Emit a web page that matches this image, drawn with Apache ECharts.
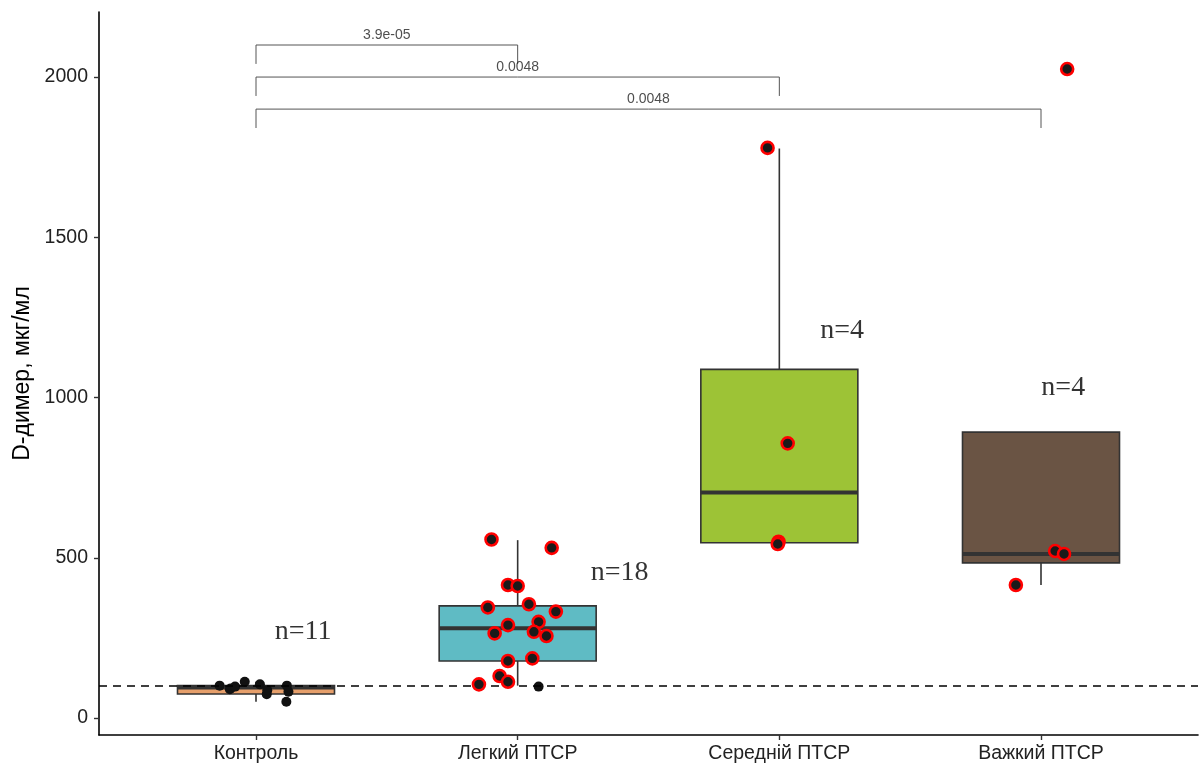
<!DOCTYPE html>
<html>
<head>
<meta charset="utf-8">
<script src="https://cdn.jsdelivr.net/npm/echarts@6/dist/echarts.min.js"></script>
<style>html,body{margin:0;padding:0;background:#fff}#c{width:1203px;height:765px}</style>
</head>
<body>
<div id="c"></div>
<script>
const categories = ['Контроль', 'Легкий ПТСР', 'Середній ПТСР', 'Важкий ПТСР'];
const boxColors = ['#E69F6B', '#5FBBC4', '#9DC336', '#6A5444'];
const boxLow = [51, 101, 543, 415];
const boxQ1 = [75, 178, 547, 484];
const boxMedian = [95, 280, 704, 512];
const boxQ3 = [101, 350, 1088, 892];
const boxHigh = [113, 555, 1777, 521];
const yTicks = [0, 500, 1000, 1500, 2000];

// jittered points: plain black
const plainX = [-0.139, -0.097, -0.1, -0.08, -0.043, 0.015, 0.041, 0.043, 0.118, 0.124, 0.116, 1.08];
const plainY = [101, 92, 90, 98, 113, 105, 74, 87, 101, 82, 51, 98];
// jittered points: red ringed
const ringX = [0.9, 1.13, 0.963, 1.0, 0.886, 1.043, 1.146, 1.08, 0.963, 0.912, 1.062, 1.11, 0.963, 1.056, 0.931, 0.963, 0.852,
  1.955, 2.032, 1.997, 1.994,
  2.904, 3.054, 3.088, 3.1];
const ringY = [557, 531, 415, 412, 345, 355, 332, 300, 290, 264, 269, 256, 178, 186, 131, 113, 105,
  1779, 857, 550, 543,
  415, 521, 512, 2025];

// significance brackets
const sigFrom = [0, 0, 0];
const sigTo = [1, 2, 3];
const sigTop = [2100, 2000, 1900];
const sigTip = [2041, 1941, 1841];
const sigLabels = ['3.9e-05', '0.0048', '0.0048'];

// n labels
const nX = [0.18, 1.39, 2.24, 3.085];
const nY = [268, 455, 1210, 1030];
const nText = ['n=11', 'n=18', 'n=4', 'n=4'];
const refLine = 100;

const chart = echarts.init(document.getElementById('c'));
const font = "'Liberation Sans', Arial, sans-serif";

const boxData = categories.map((c, i) => [i, boxLow[i], boxQ1[i], boxMedian[i], boxQ3[i], boxHigh[i]]);

const series = [];
series.push({
  type: 'custom',
  z: 2,
  data: boxData,
  renderItem: function (params, api) {
    const i = api.value(0);
    const w = api.size([0.6, 0])[0];
    const pLow = api.coord([i, api.value(1)]);
    const pQ1 = api.coord([i, api.value(2)]);
    const pMed = api.coord([i, api.value(3)]);
    const pQ3 = api.coord([i, api.value(4)]);
    const pHigh = api.coord([i, api.value(5)]);
    const cx = pQ1[0];
    const stroke = '#333333';
    const children = [];
    if (api.value(1) < api.value(2)) {
      children.push({ type: 'line', shape: { x1: cx, y1: pLow[1], x2: cx, y2: pQ1[1] }, style: { stroke: stroke, lineWidth: 1.6 } });
    }
    if (api.value(5) > api.value(4)) {
      children.push({ type: 'line', shape: { x1: cx, y1: pHigh[1], x2: cx, y2: pQ3[1] }, style: { stroke: stroke, lineWidth: 1.6 } });
    }
    children.push({ type: 'rect', shape: { x: cx - w / 2, y: pQ3[1], width: w, height: pQ1[1] - pQ3[1] },
      style: { fill: boxColors[i], stroke: stroke, lineWidth: 1.6 } });
    children.push({ type: 'line', shape: { x1: cx - w / 2, y1: pMed[1], x2: cx + w / 2, y2: pMed[1] }, style: { stroke: stroke, lineWidth: 4 } });
    return { type: 'group', children: children };
  }
});

series.push({
  type: 'line',
  data: [],
  z: 3,
  markLine: {
    silent: true,
    symbol: 'none',
    label: { show: false },
    lineStyle: { color: '#000', type: [8, 6], width: 1.6 },
    data: [{ yAxis: refLine }]
  }
});

series.push({
  type: 'scatter',
  z: 4,
  symbolSize: 10,
  itemStyle: { color: '#111', opacity: 1 },
  data: plainX.map((x, i) => [x, plainY[i]])
});
series.push({
  type: 'scatter',
  z: 5,
  symbolSize: 12,
  itemStyle: { color: '#1a1a1a', borderColor: '#FF0000', borderWidth: 2.6, opacity: 1 },
  data: ringX.map((x, i) => [x, ringY[i]])
});

sigFrom.forEach((f, k) => {
  series.push({
    type: 'line',
    z: 3,
    symbol: 'none',
    silent: true,
    lineStyle: { color: '#555', width: 1 },
    data: [[f, sigTip[k]], [f, sigTop[k]], [sigTo[k], sigTop[k]], [sigTo[k], sigTip[k]]]
  });
});
series.push({
  type: 'scatter',
  z: 6,
  symbolSize: 0,
  silent: true,
  label: { show: true, position: 'top', distance: 3, formatter: p => p.value[2], fontFamily: font, fontSize: 14, color: '#222' },
  data: sigFrom.map((f, k) => [(f + sigTo[k]) / 2, sigTop[k], sigLabels[k]])
});
series.push({
  type: 'scatter',
  z: 6,
  symbolSize: 0,
  silent: true,
  label: { show: true, position: 'inside', formatter: p => p.value[2], fontFamily: "'Liberation Serif', 'Times New Roman', serif", fontSize: 28, color: '#000' },
  data: nX.map((x, i) => [x, nY[i], nText[i]])
});

chart.setOption({
  animation: false,
  backgroundColor: '#fff',
  grid: { left: 99, right: 5, top: 12, bottom: 30, containLabel: false },
  xAxis: {
    type: 'value',
    min: -0.6,
    max: 3.6,
    splitLine: { show: false },
    axisLine: { show: true, onZero: false, lineStyle: { color: '#000', width: 1.6 } },
    axisTick: { show: true, customValues: [0, 1, 2, 3], length: 5, lineStyle: { color: '#333', width: 1.4 } },
    axisLabel: { customValues: [0, 1, 2, 3], formatter: v => categories[Math.round(v)], fontFamily: font, fontSize: 19.5, color: '#222', margin: 9 }
  },
  yAxis: {
    type: 'value',
    min: -53,
    max: 2203,
    name: 'D-димер, мкг/мл',
    nameLocation: 'middle',
    nameGap: 65,
    nameTextStyle: { fontFamily: font, fontSize: 23, color: '#000' },
    splitLine: { show: false },
    axisLine: { show: true, onZero: false, lineStyle: { color: '#000', width: 1.6 } },
    axisTick: { show: true, customValues: yTicks, length: 5, lineStyle: { color: '#333', width: 1.4 } },
    axisLabel: { customValues: yTicks, formatter: v => String(v), fontFamily: font, fontSize: 19.5, color: '#222', margin: 11 }
  },
  series: series
});
</script>
</body>
</html>
